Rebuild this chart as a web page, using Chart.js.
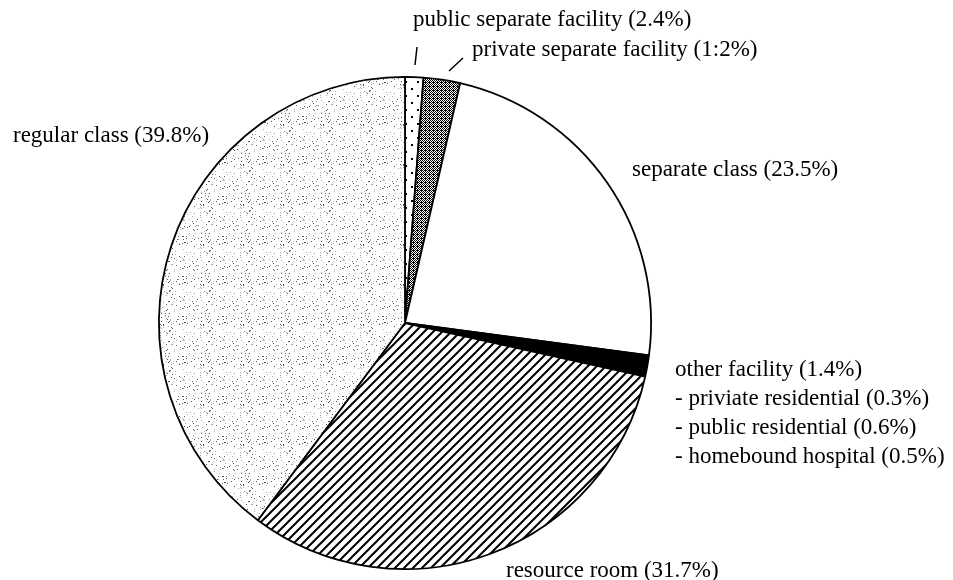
<!DOCTYPE html>
<html><head><meta charset="utf-8">
<script src="https://cdn.jsdelivr.net/npm/chart.js@4"></script>
<style>html,body{margin:0;padding:0;background:#fff}canvas{display:block}</style>
</head><body>
<canvas id="c" width="953" height="580"></canvas>
<script>
// ---- data (clockwise from 12 o'clock) ----
const categories = ["public separate facility", "private separate facility", "separate class", "other facility", "resource room", "regular class"];
const values = [1.2, 2.4, 23.5, 1.4, 31.7, 39.8];
const labelTexts = ["public separate facility (2.4%)", "private separate facility (1:2%)", "separate class (23.5%)", "other facility (1.4%)", "resource room (31.7%)", "regular class (39.8%)"];
const subLabels = ["- priviate residential (0.3%)", "- public residential (0.6%)", "- homebound hospital (0.5%)"];

// ---- fill patterns ----
function tile(w, h, draw) {
  const c = document.createElement('canvas'); c.width = w; c.height = h;
  const g = c.getContext('2d'); g.fillStyle = '#fff'; g.fillRect(0, 0, w, h); draw(g, w, h);
  return g.createPattern(c, 'repeat');
}
function hash(x, y) { return (Math.imul(x + 17, 73856093) ^ Math.imul(y + 31, 19349663)) >>> 0; }
const patDots = tile(12, 14, g => { g.fillStyle = '#000'; g.fillRect(3, 4, 2, 2); g.fillRect(9, 11, 2, 2); });
const patDark = tile(4, 4, g => {
  g.fillStyle = '#000';
  for (let y = 0; y < 4; y++) for (let x = 0; x < 4; x++) if ((x + y) % 2 === 0 || (x === 1 && y === 2)) g.fillRect(x, y, 1, 1);
});
const patHatch = tile(9, 9, g => {
  g.strokeStyle = '#000'; g.lineWidth = 2;
  g.beginPath(); g.moveTo(-1, 10); g.lineTo(10, -1); g.moveTo(-2, 2); g.lineTo(2, -2); g.moveTo(7, 11); g.lineTo(11, 7); g.stroke();
});
const patStipple = tile(40, 40, (g, w, h) => {
  for (let y = 0; y < h; y++) for (let x = 0; x < w; x++) {
    const v = hash(x, y) % 100;
    if (v < 7) { g.fillStyle = v < 3 ? '#555' : '#aaa'; g.fillRect(x, y, 1, 1); }
  }
});
const fills = [patDots, patDark, '#ffffff', '#000000', patHatch, patStipple];

// ---- labels plugin ----
const labelPlugin = {
  id: 'pieLabels',
  afterDraw(chart) {
    const ctx = chart.ctx;
    const pos = [[413, 20], [472, 50], [632, 170], [675, 370], [506, 571], [13, 136]];
    ctx.save();
    ctx.fillStyle = '#000';
    ctx.font = '23px "Liberation Serif", "Times New Roman", serif';
    ctx.textBaseline = 'middle';
    ctx.textAlign = 'left';
    labelTexts.forEach((t, i) => ctx.fillText(t, pos[i][0], pos[i][1]));
    subLabels.forEach((t, i) => ctx.fillText(t, 675, 399 + i * 29));
    ctx.strokeStyle = '#000'; ctx.lineWidth = 1.5;
    ctx.beginPath();
    ctx.moveTo(417, 47); ctx.lineTo(415, 65);
    ctx.moveTo(463, 58); ctx.lineTo(449, 71);
    ctx.stroke();
    ctx.restore();
  }
};

new Chart(document.getElementById('c'), {
  type: 'pie',
  data: {
    labels: categories,
    datasets: [{ data: values, backgroundColor: fills, borderColor: '#000', borderWidth: 1.8 }]
  },
  options: {
    responsive: false,
    devicePixelRatio: 1,
    animation: false,
    layout: { padding: { left: 158, right: 301, top: 76, bottom: 10 } },
    plugins: { legend: { display: false }, tooltip: { enabled: false } }
  },
  plugins: [labelPlugin]
});
</script>
</body></html>
